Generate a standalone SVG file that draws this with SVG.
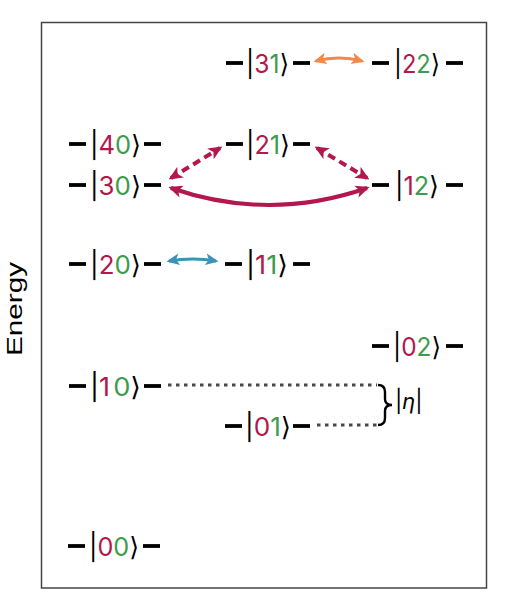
<svg xmlns="http://www.w3.org/2000/svg" width="507" height="594" viewBox="0 0 507 594">
<style>
.lvl{stroke:#000;stroke-width:3.8;stroke-linecap:butt}
.ket{font-family:Inter,"DejaVu Sans",sans-serif;font-size:26px;fill:#000}
.a{fill:#B3174D}
.b{fill:#3C9C4E}
.dot{stroke:#4a4a4a;stroke-width:3;stroke-dasharray:3.5 4.5;fill:none}
.cr{stroke:#B3174D;stroke-width:4;fill:none}
</style>
<defs>
<marker id="hr" viewBox="0 0 10 10" refX="8" refY="5" markerWidth="14" markerHeight="14" markerUnits="userSpaceOnUse" orient="auto-start-reverse"><path d="M0,0.5 L10,5 L0,9.5 L2.5,5 z" fill="#B3174D"/></marker>
<marker id="ho" viewBox="0 0 10 10" refX="8" refY="5" markerWidth="13" markerHeight="13" markerUnits="userSpaceOnUse" orient="auto-start-reverse"><path d="M0,0.5 L10,5 L0,9.5 L2.5,5 z" fill="#F0894A"/></marker>
<marker id="hb" viewBox="0 0 10 10" refX="8" refY="5" markerWidth="13" markerHeight="13" markerUnits="userSpaceOnUse" orient="auto-start-reverse"><path d="M0,0.5 L10,5 L0,9.5 L2.5,5 z" fill="#3A94B7"/></marker>
</defs>
<rect x="41.5" y="22.5" width="445" height="565.5" fill="#fff" stroke="#444" stroke-width="1.5"/>
<text x="22" y="309" transform="rotate(-90 22 309)" text-anchor="middle" font-family="'Liberation Sans',Arial,sans-serif" font-size="22" textLength="94" lengthAdjust="spacingAndGlyphs">Energy</text>

<g id="k31"><line class="lvl" x1="226" y1="63" x2="243" y2="63"/><text class="ket" x="246" y="73" textLength="43" lengthAdjust="spacingAndGlyphs">|<tspan class="a">3</tspan><tspan class="b">1</tspan>⟩</text><line class="lvl" x1="293" y1="63" x2="310" y2="63"/></g>
<g id="k22"><line class="lvl" x1="372" y1="63" x2="389" y2="63"/><text class="ket" x="394" y="73" textLength="46" lengthAdjust="spacingAndGlyphs">|<tspan class="a">2</tspan><tspan class="b">2</tspan>⟩</text><line class="lvl" x1="446" y1="63" x2="463" y2="63"/></g>
<g id="k40"><line class="lvl" x1="69" y1="144" x2="86" y2="144"/><text class="ket" x="90" y="154" textLength="51" lengthAdjust="spacingAndGlyphs">|<tspan class="a">4</tspan><tspan class="b">0</tspan>⟩</text><line class="lvl" x1="144" y1="144" x2="161" y2="144"/></g>
<g id="k21"><line class="lvl" x1="226" y1="144" x2="243" y2="144"/><text class="ket" x="246" y="154" textLength="44" lengthAdjust="spacingAndGlyphs">|<tspan class="a">2</tspan><tspan class="b">1</tspan>⟩</text><line class="lvl" x1="293" y1="144" x2="310" y2="144"/></g>
<g id="k30"><line class="lvl" x1="69" y1="185" x2="86" y2="185"/><text class="ket" x="90" y="195" textLength="51" lengthAdjust="spacingAndGlyphs">|<tspan class="a">3</tspan><tspan class="b">0</tspan>⟩</text><line class="lvl" x1="144" y1="185" x2="161" y2="185"/></g>
<g id="k12"><line class="lvl" x1="372" y1="185" x2="389" y2="185"/><text class="ket" x="395" y="195" textLength="44" lengthAdjust="spacingAndGlyphs">|<tspan class="a">1</tspan><tspan class="b">2</tspan>⟩</text><line class="lvl" x1="446" y1="185" x2="463" y2="185"/></g>
<g id="k20"><line class="lvl" x1="69" y1="264" x2="86" y2="264"/><text class="ket" x="90" y="274" textLength="51" lengthAdjust="spacingAndGlyphs">|<tspan class="a">2</tspan><tspan class="b">0</tspan>⟩</text><line class="lvl" x1="144" y1="264" x2="161" y2="264"/></g>
<g id="k11"><line class="lvl" x1="225" y1="264" x2="242" y2="264"/><text class="ket" x="246" y="274" textLength="42" lengthAdjust="spacingAndGlyphs">|<tspan class="a">1</tspan><tspan class="b">1</tspan>⟩</text><line class="lvl" x1="293" y1="264" x2="310" y2="264"/></g>
<g id="k02"><line class="lvl" x1="372" y1="346" x2="389" y2="346"/><text class="ket" x="393" y="356" textLength="48" lengthAdjust="spacingAndGlyphs">|<tspan class="a">0</tspan><tspan class="b">2</tspan>⟩</text><line class="lvl" x1="446" y1="346" x2="463" y2="346"/></g>
<g id="k10"><line class="lvl" x1="69" y1="386" x2="86" y2="386"/><text class="ket" x="90" y="396" textLength="51" lengthAdjust="spacingAndGlyphs">|<tspan class="a">1</tspan><tspan class="b" dx="3">0</tspan>⟩</text><line class="lvl" x1="144" y1="386" x2="161" y2="386"/></g>
<g id="k01"><line class="lvl" x1="225" y1="426" x2="242" y2="426"/><text class="ket" x="245" y="436" textLength="46" lengthAdjust="spacingAndGlyphs">|<tspan class="a">0</tspan><tspan class="b">1</tspan>⟩</text><line class="lvl" x1="293" y1="426" x2="310" y2="426"/></g>
<g id="k00"><line class="lvl" x1="68" y1="546" x2="85" y2="546"/><text class="ket" x="89" y="556" textLength="50" lengthAdjust="spacingAndGlyphs">|<tspan class="a">0</tspan><tspan class="b">0</tspan>⟩</text><line class="lvl" x1="143" y1="546" x2="160" y2="546"/></g>

<g id="eta">
<path d="M378,385 Q385,385 385,392 L385,399 Q385,405 392,405 Q385,405 385,411 L385,418 Q385,425 378,425" fill="none" stroke="#000" stroke-width="2.4"/>
<text x="395" y="409" font-family="Inter,'DejaVu Sans',sans-serif" font-size="22">|<tspan font-style="italic">η</tspan>|</text>
</g>

<g id="connectors">
<path d="M316,61 Q339,55 362,61" fill="none" stroke="#F0894A" stroke-width="3.2" marker-start="url(#ho)" marker-end="url(#ho)"/>
<path d="M169,261 Q193,257 216,261" fill="none" stroke="#3A94B7" stroke-width="3.2" marker-start="url(#hb)" marker-end="url(#hb)"/>
<path class="cr" d="M171,188 Q269,222 367,188" marker-start="url(#hr)" marker-end="url(#hr)"/>
<path class="cr" d="M171,178 L220,148" stroke-dasharray="8 5" marker-start="url(#hr)" marker-end="url(#hr)"/>
<path class="cr" d="M317,148 L367,178" stroke-dasharray="8 5" marker-start="url(#hr)" marker-end="url(#hr)"/>
<line class="dot" x1="168" y1="385" x2="377" y2="385"/>
<line class="dot" x1="317" y1="425" x2="377" y2="425"/>
</g>
</svg>
